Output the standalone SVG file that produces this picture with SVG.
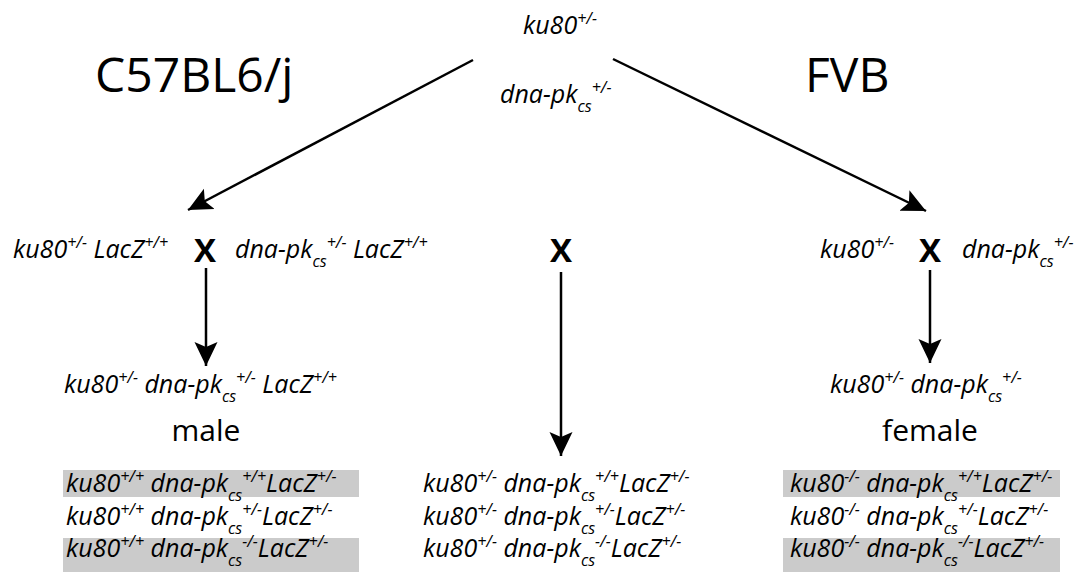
<svg xmlns="http://www.w3.org/2000/svg" width="1079" height="572" viewBox="0 0 1079 572">
<defs>
<style>
.g{font-family:"Open Sans","Liberation Sans",sans-serif;font-style:italic;font-size:25px;fill:#000}
.s{font-size:16px}
.t{font-family:"Open Sans","Liberation Sans",sans-serif;font-size:48px;fill:#000}
.sex{font-family:"Open Sans","Liberation Sans",sans-serif;font-size:30px;fill:#000}
.x{font-family:"Open Sans","Liberation Sans",sans-serif;font-weight:bold;font-size:33px;fill:#000}
.box{fill:#cbcbcb}
.c{stroke:#000;stroke-width:2.5;fill:none;marker-end:url(#ah)}
</style>
<marker id="ah" markerUnits="userSpaceOnUse" markerWidth="25" markerHeight="25" viewBox="0 0 25 25" refX="24" refY="12.5" orient="auto">
<path d="M0,1 L24,12.5 L0,24 L5,12.5 z" fill="#000"/>
</marker>
</defs>
<rect width="1079" height="572" fill="#fff"/>

<g id="connectors">
<line class="c" x1="473" y1="60" x2="188" y2="210"/>
<line class="c" x1="613" y1="59" x2="926" y2="211"/>
<line class="c" x1="206" y1="268" x2="206" y2="366"/>
<line class="c" x1="561" y1="272" x2="561" y2="456"/>
<line class="c" x1="930" y1="270" x2="930" y2="363"/>
</g>

<g id="title-c57">
<text class="t" x="95" y="92">C57BL6/j</text>
</g>
<g id="title-fvb">
<text class="t" x="805" y="92">FVB</text>
</g>

<g id="top">
<text class="g" x="523" y="34">ku80<tspan class="s" dy="-10">+/-</tspan></text>
<text class="g" x="500" y="103">dna-pk<tspan class="s" dy="9">cs</tspan><tspan class="s" dy="-19">+/-</tspan></text>
</g>

<g id="cross-left">
<text class="g" x="13" y="258">ku80<tspan class="s" dy="-10">+/-</tspan><tspan dy="10"> LacZ</tspan><tspan class="s" dy="-10">+/+</tspan></text>
<text class="x" x="205" y="262" text-anchor="middle">X</text>
<text class="g" x="235" y="258">dna-pk<tspan class="s" dy="9">cs</tspan><tspan class="s" dy="-19">+/-</tspan><tspan dy="10"> LacZ</tspan><tspan class="s" dy="-10">+/+</tspan></text>
</g>

<g id="cross-center">
<text class="x" x="561" y="262" text-anchor="middle">X</text>
</g>

<g id="cross-right">
<text class="g" x="820" y="258">ku80<tspan class="s" dy="-10">+/-</tspan></text>
<text class="x" x="930" y="262" text-anchor="middle">X</text>
<text class="g" x="962" y="258">dna-pk<tspan class="s" dy="9">cs</tspan><tspan class="s" dy="-19">+/-</tspan></text>
</g>

<g id="male">
<text class="g" x="64" y="393">ku80<tspan class="s" dy="-10">+/-</tspan><tspan dy="10"> dna-pk</tspan><tspan class="s" dy="9">cs</tspan><tspan class="s" dy="-19">+/-</tspan><tspan dy="10"> LacZ</tspan><tspan class="s" dy="-10">+/+</tspan></text>
<text class="sex" x="206" y="441" text-anchor="middle">male</text>
</g>

<g id="female">
<text class="g" x="830" y="393">ku80<tspan class="s" dy="-10">+/-</tspan><tspan dy="10"> dna-pk</tspan><tspan class="s" dy="9">cs</tspan><tspan class="s" dy="-19">+/-</tspan></text>
<text class="sex" x="930" y="441" text-anchor="middle">female</text>
</g>

<g id="offspring-left">
<rect class="box" x="63" y="470" width="296" height="27"/>
<rect class="box" x="63" y="538" width="296" height="34"/>
<text class="g" x="66" y="492">ku80<tspan class="s" dy="-10">+/+</tspan><tspan dy="10"> dna-pk</tspan><tspan class="s" dy="9">cs</tspan><tspan class="s" dy="-19">+/+</tspan><tspan dy="10">LacZ</tspan><tspan class="s" dy="-10">+/-</tspan></text>
<text class="g" x="66" y="525">ku80<tspan class="s" dy="-10">+/+</tspan><tspan dy="10"> dna-pk</tspan><tspan class="s" dy="9">cs</tspan><tspan class="s" dy="-19">+/-</tspan><tspan dy="10">LacZ</tspan><tspan class="s" dy="-10">+/-</tspan></text>
<text class="g" x="66" y="557">ku80<tspan class="s" dy="-10">+/+</tspan><tspan dy="10"> dna-pk</tspan><tspan class="s" dy="9">cs</tspan><tspan class="s" dy="-19">-/-</tspan><tspan dy="10">LacZ</tspan><tspan class="s" dy="-10">+/-</tspan></text>
</g>

<g id="offspring-center">
<text class="g" x="423" y="492">ku80<tspan class="s" dy="-10">+/-</tspan><tspan dy="10"> dna-pk</tspan><tspan class="s" dy="9">cs</tspan><tspan class="s" dy="-19">+/+</tspan><tspan dy="10">LacZ</tspan><tspan class="s" dy="-10">+/-</tspan></text>
<text class="g" x="423" y="525">ku80<tspan class="s" dy="-10">+/-</tspan><tspan dy="10"> dna-pk</tspan><tspan class="s" dy="9">cs</tspan><tspan class="s" dy="-19">+/-</tspan><tspan dy="10">LacZ</tspan><tspan class="s" dy="-10">+/-</tspan></text>
<text class="g" x="423" y="557">ku80<tspan class="s" dy="-10">+/-</tspan><tspan dy="10"> dna-pk</tspan><tspan class="s" dy="9">cs</tspan><tspan class="s" dy="-19">-/-</tspan><tspan dy="10">LacZ</tspan><tspan class="s" dy="-10">+/-</tspan></text>
</g>

<g id="offspring-right">
<rect class="box" x="783" y="470" width="277" height="27"/>
<rect class="box" x="783" y="538" width="277" height="34"/>
<text class="g" x="790" y="492">ku80<tspan class="s" dy="-10">-/-</tspan><tspan dy="10"> dna-pk</tspan><tspan class="s" dy="9">cs</tspan><tspan class="s" dy="-19">+/+</tspan><tspan dy="10">LacZ</tspan><tspan class="s" dy="-10">+/-</tspan></text>
<text class="g" x="790" y="525">ku80<tspan class="s" dy="-10">-/-</tspan><tspan dy="10"> dna-pk</tspan><tspan class="s" dy="9">cs</tspan><tspan class="s" dy="-19">+/-</tspan><tspan dy="10">LacZ</tspan><tspan class="s" dy="-10">+/-</tspan></text>
<text class="g" x="790" y="557">ku80<tspan class="s" dy="-10">-/-</tspan><tspan dy="10"> dna-pk</tspan><tspan class="s" dy="9">cs</tspan><tspan class="s" dy="-19">-/-</tspan><tspan dy="10">LacZ</tspan><tspan class="s" dy="-10">+/-</tspan></text>
</g>
</svg>
